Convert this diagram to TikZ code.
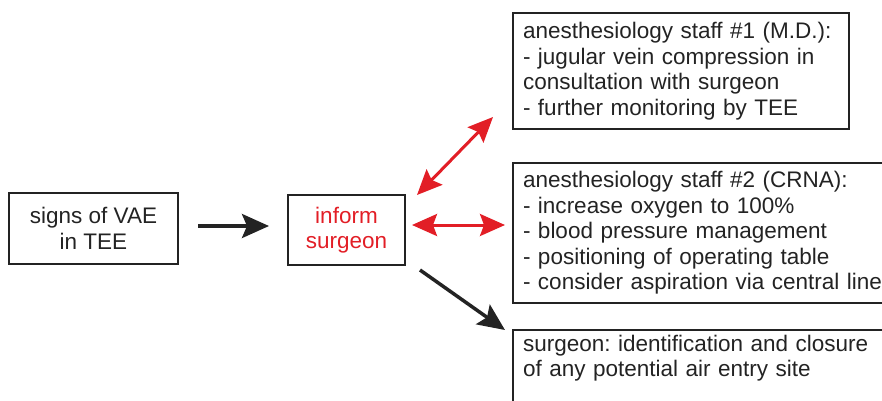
\documentclass[tikz,border=0pt]{standalone}
\usepackage{fontspec}
\setmainfont{Liberation Sans}
\usetikzlibrary{arrows.meta,calc}
\definecolor{vred}{RGB}{226,30,38}
\definecolor{ink}{RGB}{35,35,35}
\frenchspacing
\begin{document}
\begin{tikzpicture}[x=1pt,y=-1pt,
  every node/.style={font=\fontsize{22.5}{25.5}\selectfont, text=ink},
  box/.style={draw=ink, line width=2pt, rectangle, anchor=north west},
  lbox/.style={box, align=left, inner xsep=10pt},
  blkarr/.style={draw=ink, line width=3.5pt, -{Stealth[length=27pt,width=24pt,inset=5pt]}},
  redarr/.style={draw=vred, line width=3pt, {Stealth[length=25pt,width=22pt,inset=4pt]}-{Stealth[length=25pt,width=22pt,inset=4pt]}}
]
\useasboundingbox (0,0) rectangle (882,400);
\clip (0,0) rectangle (882,400);

\node[box, minimum width=169pt, minimum height=71pt, align=center] (vae) at (8,192) {signs of VAE\\in TEE};
\node[box, minimum width=117pt, minimum height=70pt, align=center, text=vred] (inf) at (287,194) {inform\\surgeon};

\node[lbox, text width=316pt, minimum height=116pt] (md) at (512,12)
  {anesthesiology staff \#1 (M.D.):\\- jugular vein compression in\\consultation with surgeon\\- further monitoring by TEE};
\node[lbox, text width=360pt, minimum height=140pt] (crna) at (512,162)
  {anesthesiology staff \#2 (CRNA):\\- increase oxygen to 100\%\\- blood pressure management\\- positioning of operating table\\- consider aspiration via central line};
\node[lbox, text width=360pt, inner ysep=5pt, text depth=80pt] (surg) at (512,329)
  {surgeon: identification and closure\\of any potential air entry site};

\draw[blkarr] ($(vae.east)+(19,-2.5)$) -- ($(inf.west)+(-18,-4)$);
\draw[redarr] ($(inf.north east)+(11,1)$) -- ($(md.south west)+(-19,-13)$);
\draw[redarr] ($(inf.east)+(6,-5)$) -- ($(crna.west)+(-7,-8)$);
\draw[blkarr] ($(inf.south east)+(14,4)$) -- ($(surg.north west)+(-7,1)$);
\end{tikzpicture}
\end{document}
